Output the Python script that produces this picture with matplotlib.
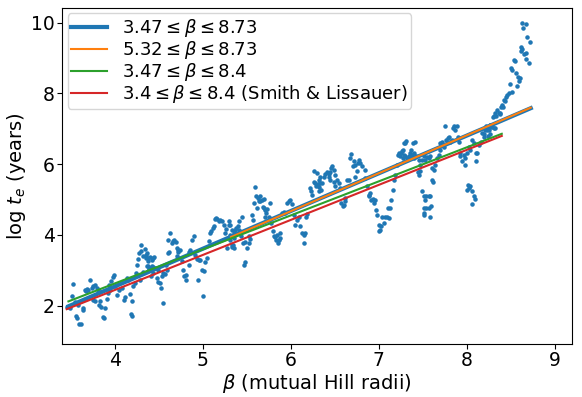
import numpy as np
import matplotlib
matplotlib.use('Agg')
import matplotlib.pyplot as plt

# simulated instability times
beta = [3.458, 3.48, 3.488, 3.507, 3.526, 3.545, 3.556, 3.564, 3.583, 3.591, 3.61, 3.632, 3.64,
        3.659, 3.67, 3.678, 3.697, 3.716, 3.735, 3.754, 3.754, 3.773, 3.773, 3.792, 3.811, 3.822,
        3.83, 3.838, 3.868, 3.879, 3.887, 3.906, 3.925, 3.936, 3.944, 3.952, 3.974, 3.993, 4.001,
        4.028, 4.05, 4.077, 4.104, 4.119, 4.134, 4.153, 4.172, 4.183, 4.19, 4.195, 4.21, 4.229,
        4.24, 4.248, 4.263, 4.278, 4.286, 4.294, 4.301, 4.316, 4.324, 4.343, 4.354, 4.37, 4.385,
        4.361, 4.353, 4.38, 4.399, 4.418, 4.437, 4.448, 4.372, 4.361, 4.388, 4.399, 4.418, 4.437,
        4.456, 4.41, 4.437, 4.475, 4.486, 4.513, 4.524, 4.551, 4.494, 4.532, 4.551, 4.57, 4.589,
        4.578, 4.60, 4.616, 4.608, 4.627, 4.646, 4.665, 4.676, 4.692, 4.703, 4.722, 4.714, 4.741,
        4.703, 4.722, 4.76, 4.768, 4.79, 4.806, 4.81, 4.836, 4.855, 4.836, 4.874, 4.893, 4.912,
        4.931, 4.95, 4.969, 4.942, 4.988, 5.007, 4.996, 5.026, 5.045, 5.064, 5.075, 5.094, 5.11,
        5.121, 5.132, 5.148, 5.163, 5.178, 5.197, 5.216, 5.235, 5.254, 5.262, 5.292, 5.30, 5.311,
        5.33, 5.349, 5.338, 5.273,
        5.31, 5.329, 5.348, 5.31, 5.329, 5.348, 5.367, 5.378, 5.394, 5.405, 5.416, 5.443, 5.432,
        5.454, 5.481, 5.47, 5.481, 5.50, 5.519, 5.519, 5.538, 5.557, 5.568, 5.584, 5.595, 5.606,
        5.614, 5.622, 5.633, 5.644, 5.652, 5.671, 5.682, 5.69, 5.698, 5.709, 5.72, 5.728, 5.709,
        5.747, 5.766, 5.774, 5.796, 5.812, 5.823, 5.834, 5.842, 5.85, 5.861, 5.872, 5.88, 5.899,
        5.918, 5.937, 5.956, 5.975, 5.994, 6.013, 6.032, 6.051, 6.07, 6.089, 6.108, 6.127, 6.146,
        6.165, 6.154, 6.176, 6.184, 6.222, 6.23, 6.241, 6.26, 6.268, 6.279, 6.29, 6.306, 6.317,
        6.328,
        6.297, 6.316, 6.335, 6.324, 6.346, 6.354, 6.373, 6.384, 6.411, 6.43, 6.438, 6.449, 6.46,
        6.468, 6.487, 6.449, 6.487, 6.506, 6.498, 6.525, 6.544, 6.563, 6.574, 6.59, 6.601, 6.612,
        6.62, 6.639, 6.658, 6.677, 6.688, 6.704, 6.715, 6.726, 6.734, 6.753, 6.764, 6.772, 6.791,
        6.81, 6.84, 6.848, 6.867, 6.886, 6.894, 6.905, 6.916, 6.932, 6.943, 6.954, 6.97, 6.981,
        7.0, 7.019, 7.03, 7.008, 7.038, 7.057, 7.076, 7.095, 7.114, 7.106, 7.133, 7.144, 7.16,
        7.171, 7.19, 7.209, 7.22, 7.236, 7.247, 7.258, 7.274, 7.285, 7.296,
        7.265, 7.276, 7.292, 7.303, 7.314, 7.322, 7.341, 7.352, 7.368, 7.379, 7.39, 7.417, 7.398,
        7.406, 7.428, 7.455, 7.444, 7.455, 7.466, 7.474, 7.493, 7.512, 7.531, 7.55, 7.569, 7.588,
        7.607, 7.626, 7.645, 7.664, 7.683, 7.702, 7.694, 7.721, 7.74, 7.759, 7.77, 7.786, 7.797,
        7.816, 7.835, 7.846, 7.854, 7.873, 7.892, 7.9, 7.911, 7.922, 7.93, 7.949, 7.968, 7.976,
        7.987, 8.006, 8.025, 8.044, 8.063, 8.082, 8.101, 8.112, 8.12, 8.139, 8.158, 8.177, 8.196,
        8.215, 8.234, 8.253, 8.264,
        7.607, 7.618, 7.493, 7.512, 7.542, 7.569, 7.588, 7.531, 7.52, 7.542, 7.569, 7.596, 7.512,
        7.52, 7.58, 8.014, 8.006, 8.044, 8.063, 8.082, 8.09, 8.063, 8.025,
        8.632, 8.67, 8.643, 8.689, 8.719, 8.621, 8.613, 8.632, 8.651, 8.681, 8.67, 8.708, 8.537,
        8.556, 8.507, 8.518, 8.567, 8.583, 8.605, 8.594, 8.575, 8.499, 8.518, 8.48, 8.461, 8.453,
        8.423, 8.442, 8.404, 8.393, 8.415, 8.347, 8.366, 8.377, 8.385, 8.328, 8.309, 8.301, 8.339,
        8.271, 8.29, 8.309, 8.233, 8.252, 8.263, 8.241, 8.195, 8.214, 8.328]
log_te = [1.96, 2.00, 1.93, 2.28, 2.62, 2.09, 1.70, 1.64, 2.03, 1.49, 1.47, 1.87, 1.92,
          2.43, 2.40, 2.48, 2.43, 2.73, 2.50, 2.55, 2.17, 2.57, 2.14, 2.50, 2.43, 2.03,
          2.12, 1.96, 1.67, 1.64, 1.93, 2.19, 2.36, 2.59, 2.43, 2.69, 2.81, 2.88, 2.55,
          2.31, 2.43, 2.50, 2.17, 2.25, 2.78, 2.73, 2.34, 1.77, 2.13, 1.72, 2.55, 2.64,
          2.92, 3.16, 3.32, 3.49, 2.73, 3.54, 3.72, 3.41, 2.94, 3.60, 3.44, 3.11, 3.04,
          3.49, 3.35, 3.35, 3.37, 3.30, 3.35, 3.37, 3.25, 3.11, 3.02, 3.06, 3.11, 3.09,
          3.06, 2.85, 2.92, 2.78, 2.66, 2.64, 2.50, 2.06, 3.02, 2.83, 2.92, 2.90, 3.02,
          3.16, 3.49, 3.53, 3.86, 4.05, 3.77, 3.82, 3.85, 3.79, 3.63, 3.53, 3.58, 3.58,
          3.39, 3.35, 3.25, 3.02, 2.83, 2.87, 2.73, 3.53, 3.56, 3.16, 3.86, 3.96, 3.44,
          3.32, 3.30, 3.28, 2.73, 3.02, 2.97, 2.26, 3.22, 3.35, 3.82, 4.05, 4.10, 4.19,
          4.24, 4.45, 4.48, 4.45, 4.38, 4.41, 4.38, 4.29, 4.05, 4.17, 4.29, 4.38, 4.00,
          3.67, 3.91, 3.72, 3.63,
          4.29, 4.15, 4.05, 3.86, 3.72, 3.63, 4.15, 4.19, 4.24, 4.38, 4.15, 4.50, 3.96,
          3.77, 3.79, 3.16, 3.22, 3.63, 3.77, 3.98, 3.88, 4.57, 4.43, 4.90, 5.35, 5.09,
          4.76, 5.04, 4.97, 5.09, 4.95, 4.99, 4.79, 5.01, 4.76, 4.71, 4.62, 4.72, 4.50,
          4.52, 4.90, 4.33, 4.10, 3.98, 3.94, 3.86, 4.00, 3.77, 3.86, 3.91, 4.05, 4.62,
          4.66, 4.62, 4.90, 4.95, 4.99, 4.88, 4.57, 4.29, 4.43, 4.50, 4.26, 4.05, 4.00,
          4.05, 3.77, 4.50, 4.60, 5.32, 5.23, 5.14, 5.80, 5.51, 5.46, 5.37, 5.45, 5.23,
          5.48,
          5.75, 5.56, 5.65, 5.35, 5.28, 5.46, 5.65, 5.73, 5.79, 5.65, 5.73, 5.79, 5.89,
          5.94, 5.84, 5.56, 5.51, 5.39, 5.70, 5.56, 5.46, 5.32, 4.90, 4.81, 4.85, 5.04,
          4.95, 5.56, 5.56, 6.17, 6.29, 5.94, 6.08, 5.98, 5.65, 5.82, 6.03, 6.12, 6.03,
          5.94, 5.84, 5.61, 5.37, 5.13, 5.09, 5.18, 4.99, 5.01, 4.90, 4.99, 4.71, 4.57,
          4.29, 4.14, 4.24, 4.10, 4.52, 4.35, 4.50, 4.50, 4.48, 4.76, 4.76, 4.99, 5.28,
          5.56, 5.70, 5.98, 6.27, 6.31, 6.22, 6.31, 6.41, 6.60, 6.22,
          6.36, 6.17, 6.27, 6.60, 6.67, 6.17, 6.22, 6.31, 6.41, 6.27, 6.60, 6.64, 6.31,
          6.17, 6.22, 6.12, 5.79, 5.70, 5.82, 5.98, 6.12, 6.22, 6.12, 6.20, 6.17, 6.22,
          5.89, 5.84, 5.98, 6.17, 6.27, 6.41, 6.60, 6.64, 6.50, 7.07, 6.69, 6.74, 6.78,
          6.64, 6.69, 7.02, 7.07, 6.97, 7.07, 6.78, 6.64, 6.22, 6.31, 6.08, 6.27, 5.98,
          6.17, 6.31, 6.50, 6.41, 6.69, 6.60, 6.31, 6.08, 6.31, 6.55, 6.64, 6.88, 6.78,
          7.07, 6.97, 7.02, 7.11,
          5.56, 5.51, 5.23, 5.09, 5.11, 5.09, 5.09, 4.99, 4.76, 4.76, 4.76, 4.82, 4.62,
          4.57, 4.50, 5.42, 5.28, 5.37, 5.23, 5.09, 5.01, 4.88, 5.32,
          10.0, 9.97, 9.84, 9.59, 9.47, 9.31, 9.21, 9.25, 9.12, 9.14, 8.97, 8.87, 8.95,
          8.93, 8.71, 8.67, 8.57, 8.46, 8.43, 8.34, 8.21, 8.27, 8.05, 8.01, 7.96, 7.91,
          7.82, 7.80, 7.68, 7.61, 7.63, 7.54, 7.46, 7.42, 7.44, 7.44, 7.37, 7.33, 7.35,
          7.11, 7.05, 7.02, 7.06, 6.97, 6.86, 6.80, 6.86, 6.97, 7.02]

# linear fits: label, beta range, end values of log t_e
fit_labels = [r'$3.47 \leq \beta \leq 8.73$', r'$5.32 \leq \beta \leq 8.73$',
              r'$3.47 \leq \beta \leq 8.4$', r'$3.4 \leq \beta \leq 8.4$ (Smith & Lissauer)']
fit_lo = [3.47, 5.32, 3.47, 3.45]
fit_hi = [8.73, 8.73, 8.4, 8.4]
fit_y_lo = [1.98, 3.94, 2.12, 1.90]
fit_y_hi = [7.585, 7.60, 6.86, 6.80]
fit_lw = [3, 1.5, 1.5, 1.5]

fig, ax = plt.subplots(figsize=(5.82, 3.97), dpi=100)
fig.subplots_adjust(left=0.107, right=0.983, top=0.98, bottom=0.134)

ax.scatter(beta, log_te, s=5, color='C0', zorder=1)
for i in range(4):
    ax.plot([fit_lo[i], fit_hi[i]], [fit_y_lo[i], fit_y_hi[i]], color='C%d' % i,
            lw=fit_lw[i], label=fit_labels[i], zorder=2)

ax.set_xlim(3.40, 9.2)
ax.set_ylim(0.92, 10.42)
ax.set_xticks([4, 5, 6, 7, 8, 9])
ax.set_yticks([2, 4, 6, 8, 10])
ax.tick_params(labelsize=13.5, pad=2)
ax.set_xlabel(r'$\beta$ (mutual Hill radii)', fontsize=14, labelpad=1)
ax.set_ylabel(r'log $t_e$ (years)', fontsize=14, labelpad=2)
ax.legend(loc='upper left', fontsize=13, borderaxespad=0.3, handlelength=2,
          labelspacing=0.0, borderpad=0.2, handletextpad=0.8)

plt.savefig('out.png')
